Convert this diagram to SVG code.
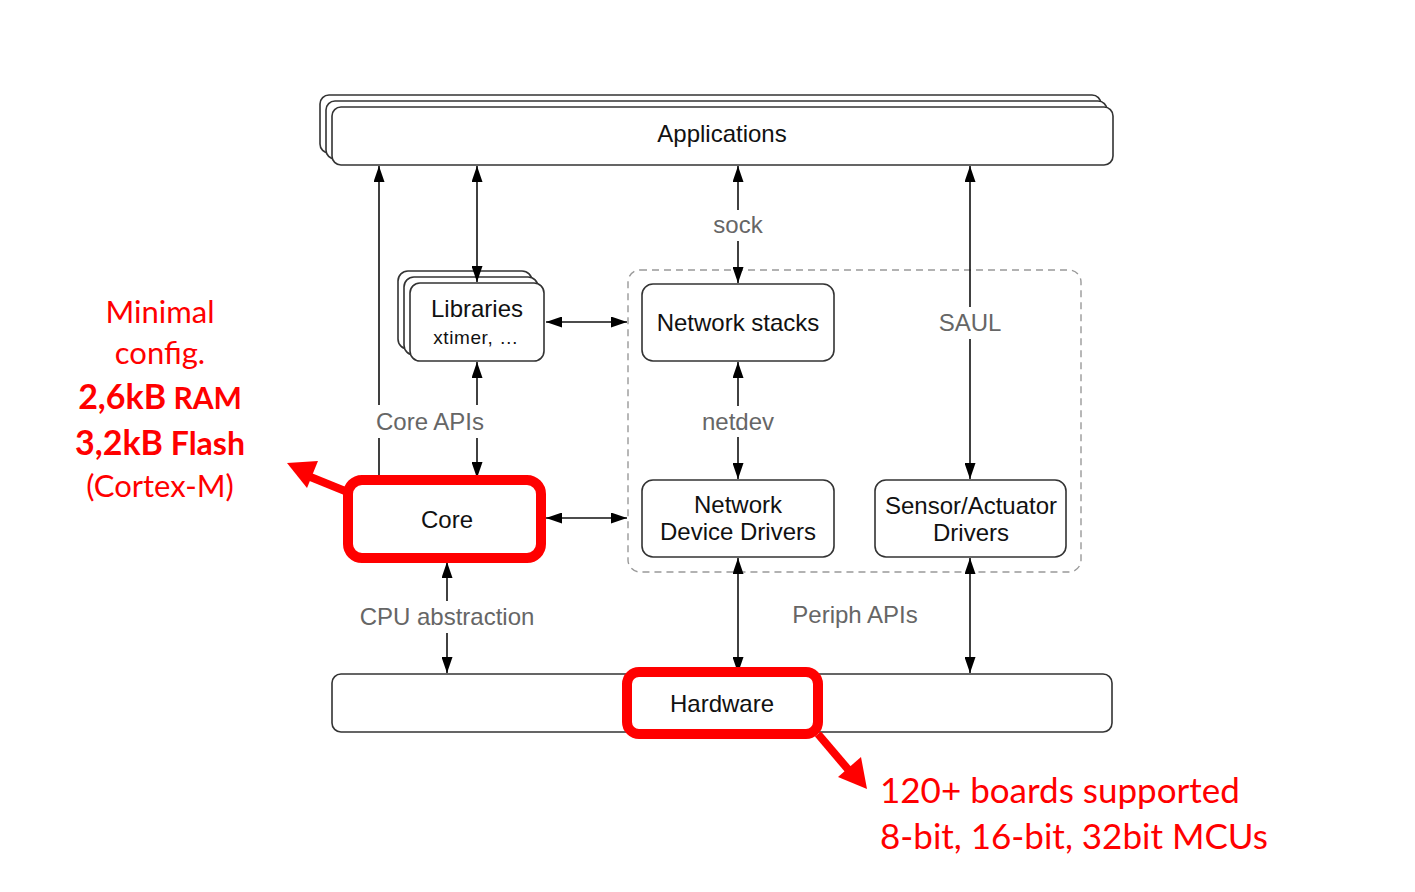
<svg xmlns="http://www.w3.org/2000/svg" width="1415" height="892" viewBox="0 0 1415 892">
<defs>
<marker id="ah" viewBox="0 0 16 11" refX="16" refY="5.5" markerWidth="16" markerHeight="11" markerUnits="userSpaceOnUse" orient="auto-start-reverse">
<path d="M0,0 L16,5.5 L0,11 z" fill="#000"/>
</marker>
</defs>
<style>
.box{fill:#fff;stroke:#333;stroke-width:1.6}
.lbl{font-family:"Liberation Sans",Arial,sans-serif;font-size:24px;fill:#111;text-anchor:middle}
.gray{font-family:"Liberation Sans",Arial,sans-serif;font-size:24px;fill:#666;text-anchor:middle}
.con{fill:none;stroke:#111;stroke-width:1.6}
.red{fill:none;stroke:#ff0000;stroke-width:10}
.rtxt{font-family:Lato,"Open Sans",sans-serif;fill:#ff0000}
</style>
<rect width="1415" height="892" fill="#fff"/>

<g id="applications">
<rect class="box" x="320" y="95" width="781" height="58" rx="9"/>
<rect class="box" x="326" y="101" width="781" height="58" rx="9"/>
<rect class="box" x="332" y="107" width="781" height="58" rx="9"/>
<text class="lbl" x="722" y="142">Applications</text>
</g>

<g id="libraries">
<rect class="box" x="398" y="271" width="134" height="78" rx="10"/>
<rect class="box" x="404" y="277" width="134" height="78" rx="10"/>
<rect class="box" x="410" y="283" width="134" height="78" rx="10"/>
<text class="lbl" x="477" y="317">Libraries</text>
<text class="lbl" x="476" y="344" style="font-size:19px;letter-spacing:0.6px">xtimer, …</text>
</g>

<g id="netdomain">
<rect x="628" y="270" width="453" height="302" rx="12" fill="none" stroke="#999" stroke-width="1.4" stroke-dasharray="7,5"/>
</g>

<g id="network-stacks">
<rect class="box" x="642" y="284" width="192" height="77" rx="11"/>
<text class="lbl" x="738" y="331">Network stacks</text>
</g>

<g id="network-device-drivers">
<rect class="box" x="642" y="480" width="192" height="77" rx="11"/>
<text class="lbl" x="738" y="513">Network</text>
<text class="lbl" x="738" y="540">Device Drivers</text>
</g>

<g id="sensor-actuator-drivers">
<rect class="box" x="875" y="480" width="191" height="77" rx="11"/>
<text class="lbl" x="971" y="514">Sensor/Actuator</text>
<text class="lbl" x="971" y="541">Drivers</text>
</g>

<g id="core">
<rect class="box" x="348" y="480" width="193" height="77" rx="12"/>
<text class="lbl" x="447" y="528">Core</text>
</g>

<g id="hardware">
<rect class="box" x="332" y="674" width="780" height="58" rx="9"/>
<text class="lbl" x="722" y="712">Hardware</text>
</g>

<g id="connectors">
<path class="con" d="M379,475 L379,438 M379,405 L379,166" marker-end="url(#ah)"/>
<path class="con" d="M477,282 L477,166" marker-start="url(#ah)" marker-end="url(#ah)"/>
<path class="con" d="M477,405 L477,362" marker-end="url(#ah)"/>
<path class="con" d="M477,438 L477,478" marker-end="url(#ah)"/>
<path class="con" d="M546,322 L627,322" marker-start="url(#ah)" marker-end="url(#ah)"/>
<path class="con" d="M738,210 L738,166" marker-end="url(#ah)"/>
<path class="con" d="M738,241 L738,283" marker-end="url(#ah)"/>
<path class="con" d="M738,406 L738,362" marker-end="url(#ah)"/>
<path class="con" d="M738,437 L738,479" marker-end="url(#ah)"/>
<path class="con" d="M970,307 L970,166" marker-end="url(#ah)"/>
<path class="con" d="M970,339 L970,479" marker-end="url(#ah)"/>
<path class="con" d="M546,518 L627,518" marker-start="url(#ah)" marker-end="url(#ah)"/>
<path class="con" d="M447,601 L447,562" marker-end="url(#ah)"/>
<path class="con" d="M447,633 L447,673" marker-end="url(#ah)"/>
<path class="con" d="M738,558 L738,673" marker-start="url(#ah)" marker-end="url(#ah)"/>
<path class="con" d="M970,558 L970,673" marker-start="url(#ah)" marker-end="url(#ah)"/>
<text class="gray" x="738" y="233">sock</text>
<text class="gray" x="738" y="430">netdev</text>
<text class="gray" x="430" y="430">Core APIs</text>
<text class="gray" x="970" y="331">SAUL</text>
<text class="gray" x="447" y="625">CPU abstraction</text>
<text class="gray" x="855" y="623">Periph APIs</text>
</g>

<g id="highlights">
<rect class="red" x="348" y="480" width="193" height="78" rx="14"/>
<rect class="red" x="627" y="672" width="191" height="62" rx="12"/>
<path d="M345,491 L308,476" stroke="#ff0000" stroke-width="8" fill="none"/>
<polygon points="287,463 318,461 307,488" fill="#ff0000"/>
<path d="M818,734 L852,774" stroke="#ff0000" stroke-width="8" fill="none"/>
<polygon points="867,789 838,777 861,757" fill="#ff0000"/>
</g>

<g id="annotations">
<text class="rtxt" x="160" y="323" text-anchor="middle" font-size="31">Minimal</text>
<text class="rtxt" x="160" y="364" text-anchor="middle" font-size="31">config.</text>
<text class="rtxt" x="160" y="409" text-anchor="middle" font-weight="bold"><tspan font-size="34">2,6kB</tspan><tspan font-size="30"> RAM</tspan></text>
<text class="rtxt" x="160" y="455" text-anchor="middle" font-weight="bold"><tspan font-size="34">3,2kB</tspan><tspan font-size="32"> Flash</tspan></text>
<text class="rtxt" x="160" y="497" text-anchor="middle" font-size="31">(Cortex-M)</text>
<text class="rtxt" x="880" y="803" font-size="35">120+ boards supported</text>
<text class="rtxt" x="880" y="849" font-size="35">8-bit, 16-bit, 32bit MCUs</text>
</g>
</svg>
